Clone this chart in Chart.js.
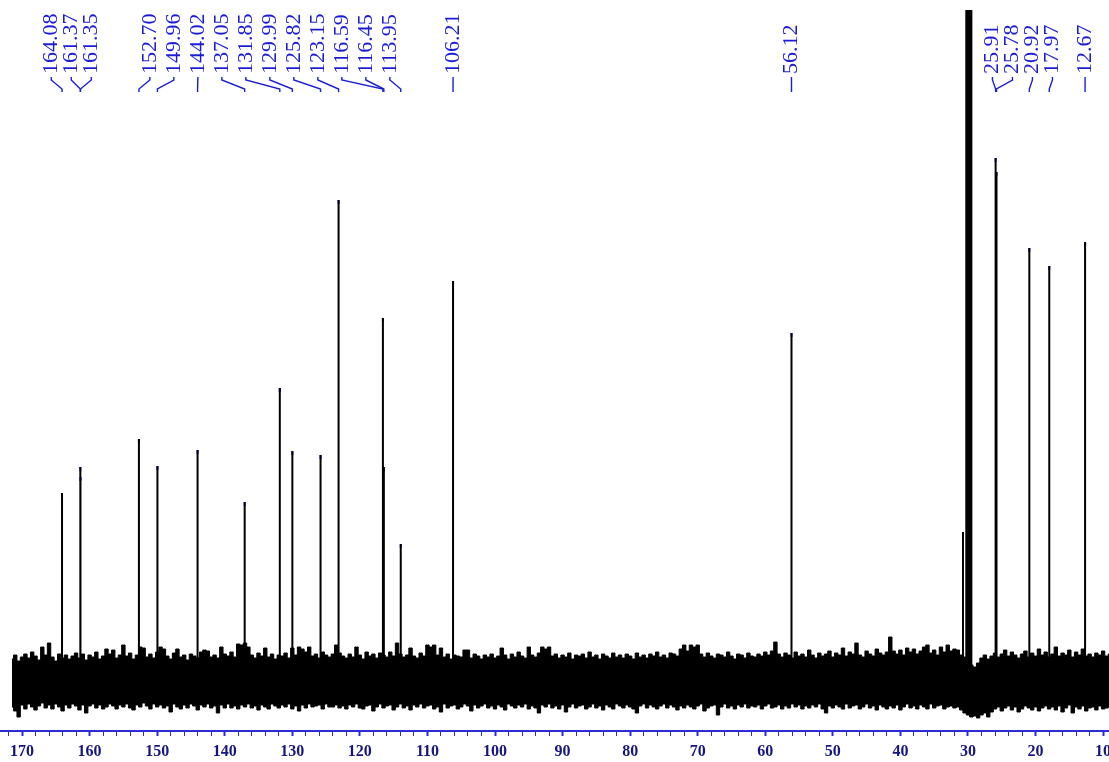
<!DOCTYPE html>
<html>
<head>
<meta charset="utf-8">
<script src="https://cdn.jsdelivr.net/npm/chart.js@4"></script>
<style>
  html, body { margin: 0; padding: 0; background: #fff; }
  canvas { display: block; }
</style>
</head>
<body>
<canvas id="nmrChart" width="1109" height="762"></canvas>
<script>
// 13C NMR peaks (ppm) and heights
const peakPpm = [164.08, 161.37, 161.35, 152.70, 149.96, 144.02, 137.05, 131.85, 129.99, 125.82,
                 123.15, 116.59, 116.45, 113.95, 106.21, 56.12, 25.91, 25.78, 20.92, 17.97, 12.67];
const peakHeight = [192, 218, 208, 246, 219, 235, 183, 297, 234, 230,
                    485, 367, 218, 141, 404, 352, 527, 513, 437, 419, 443];

// solvent multiplet (goes off the top)
const solventPpm = [30.74, 30.25, 30.10, 29.95, 29.80, 29.65, 29.50];
const solventHeight = [153, 2000, 2000, 2000, 2000, 2000, 2000];

// baseline noise: upper / lower edge of the noise band every 0.5 ppm from noiseStart
const noiseStart = 171.5;
const noiseStep = 0.5;
const noiseHi = [
  26, 30, 24, 28, 31, 27, 33, 29, 25, 38, 30, 42, 28, 24, 31, 27, 30, 26, 29, 32,
  27, 31, 25, 30, 28, 33, 26, 29, 36, 31, 35, 27, 30, 40, 29, 32, 26, 30, 38, 37,
  28, 31, 27, 33, 38, 36, 29, 26, 32, 36, 28, 30, 25, 31, 29, 27, 33, 35, 34, 28,
  30, 27, 38, 31, 29, 33, 28, 41, 40, 42, 38, 30, 27, 32, 29, 37, 28, 31, 26, 30,
  29, 32, 27, 37, 30, 38, 36, 33, 38, 29, 31, 27, 33, 30, 28, 31, 40, 32, 29, 27,
  31, 28, 38, 30, 26, 33, 29, 31, 27, 32, 30, 28, 33, 29, 42, 31, 28, 30, 37, 29,
  27, 32, 29, 40, 38, 40, 30, 37, 28, 31, 26, 30, 29, 28, 35, 35, 27, 31, 29, 26,
  30, 28, 31, 27, 29, 37, 30, 26, 31, 28, 33, 29, 27, 38, 30, 28, 32, 38, 36, 38,
  29, 31, 27, 30, 28, 32, 26, 30, 29, 31, 27, 33, 28, 30, 26, 31, 29, 27, 32, 28,
  30, 27, 31, 29, 26, 32, 28, 30, 27, 31, 29, 33, 28, 30, 27, 32, 31, 29, 36, 40,
  34, 40, 38, 40, 31, 28, 32, 29, 27, 31, 30, 28, 33, 29, 26, 31, 30, 27, 32, 29,
  28, 31, 29, 33, 30, 34, 43, 31, 28, 32, 30, 27, 33, 29, 31, 28, 35, 30, 27, 32,
  29, 31, 34, 28, 32, 30, 37, 29, 33, 31, 42, 30, 28, 34, 31, 29, 36, 32, 30, 33,
  48, 34, 31, 35, 30, 37, 33, 36, 31, 34, 38, 40, 32, 35, 30, 38, 33, 40, 34, 36,
  35, 30, 28, 24, 20, 18, 22, 27, 30, 26, 29, 32, 28, 31, 35, 29, 33, 30, 27, 31,
  34, 28, 32, 29, 36, 30, 33, 28, 31, 38, 29, 32, 30, 35, 28, 33, 30, 36, 29, 31,
  28, 32, 30, 34, 29, 31
];
const noiseLo = [
  -22, -26, -32, -20, -24, -19, -22, -25, -21, -18, -23, -20, -24, -19, -22, -26, -20, -23, -19, -21,
  -25, -20, -28, -21, -19, -23, -20, -24, -22, -19, -21, -24, -20, -22, -19, -23, -25, -20, -22, -18,
  -21, -24, -19, -22, -20, -23, -21, -27, -19, -22, -24, -20, -23, -19, -21, -25, -20, -22, -19, -23,
  -21, -28, -20, -23, -19, -23, -21, -24, -20, -22, -19, -23, -21, -25, -20, -22, -24, -19, -21, -23,
  -20, -22, -19, -24, -21, -26, -20, -23, -19, -22, -21, -20, -24, -19, -22, -22, -20, -23, -21, -24,
  -20, -22, -19, -23, -24, -21, -20, -26, -22, -19, -23, -21, -20, -25, -22, -19, -23, -21, -25, -20,
  -22, -19, -23, -21, -20, -24, -22, -27, -19, -23, -21, -20, -24, -22, -19, -21, -26, -20, -23, -21,
  -19, -23, -21, -24, -20, -22, -25, -19, -21, -23, -20, -22, -19, -24, -21, -23, -28, -20, -22, -19,
  -23, -21, -24, -20, -27, -22, -19, -23, -21, -20, -24, -22, -19, -23, -21, -25, -20, -22, -24, -19,
  -21, -23, -20, -22, -24, -28, -21, -19, -23, -20, -22, -24, -21, -19, -23, -20, -22, -25, -21, -23,
  -20, -22, -24, -21, -19, -26, -23, -21, -20, -30, -22, -19, -23, -21, -24, -20, -22, -19, -23, -21,
  -22, -20, -24, -21, -19, -23, -22, -20, -24, -21, -23, -19, -22, -20, -24, -21, -23, -20, -22, -19,
  -24, -28, -21, -23, -20, -22, -24, -19, -23, -21, -20, -24, -22, -19, -23, -21, -25, -20, -22, -24,
  -21, -23, -20, -25, -22, -19, -23, -21, -24, -20, -22, -24, -19, -23, -21, -20, -24, -22, -21, -23,
  -22, -25, -28, -30, -32, -31, -33, -30, -28, -32, -27, -24, -22, -26, -23, -21, -25, -22, -27, -24,
  -21, -23, -25, -22, -26, -23, -21, -24, -22, -25, -21, -27, -23, -20, -28, -22, -24, -21, -26, -23,
  -22, -25, -21, -24, -23, -22
];

// shift labels: how many sit side by side in each block, and their spacing (px)
const labelGroups = [3, 11, 1, 1, 4, 1];
const labelGaps = [20, 24, 0, 0, 20, 0];

const xMin = 9.13, xMax = 173.26;

// build the plotted points
const noisePpm = noiseHi.map((_, i) => noiseStart - i * noiseStep);
const noiseTop = noiseHi.map((v, i) => ({ x: noisePpm[i], y: v }));
const noiseBottom = noiseLo.map((v, i) => ({ x: noisePpm[i], y: v }));

function sticks(ppm, hgt) {
  const pts = [];
  ppm.forEach((p, i) => {
    pts.push({ x: p, y: 0 }, { x: p, y: hgt[i] }, { x: p, y: 0 }, { x: p, y: null });
  });
  return pts;
}

const labelPlugin = {
  id: 'shiftLabels',
  afterDatasetsDraw(chart) {
    const ctx = chart.ctx;
    const xs = chart.scales.x;
    const px = peakPpm.map(p => xs.getPixelForValue(p));
    let k = 0;
    ctx.save();
    ctx.font = '22px "Liberation Serif", "Times New Roman", serif';
    ctx.fillStyle = '#1c1cd4';
    ctx.strokeStyle = '#1c1cd4';
    ctx.lineWidth = 1.4;
    labelGroups.forEach((n, g) => {
      const grp = px.slice(k, k + n);
      const mid = (Math.min(...grp) + Math.max(...grp)) / 2;
      grp.forEach((x, j) => {
        const lx = mid + (j - (n - 1) / 2) * labelGaps[g];
        ctx.beginPath();
        ctx.moveTo(lx, 77);
        ctx.lineTo(lx, 80);
        ctx.lineTo(x, 89);
        ctx.lineTo(x, 92);
        ctx.stroke();
        ctx.save();
        ctx.translate(lx, 74);
        ctx.rotate(-Math.PI / 2);
        ctx.textAlign = 'left';
        ctx.textBaseline = 'middle';
        ctx.fillText(peakPpm[k + j].toFixed(2), 0, 0);
        ctx.restore();
      });
      k += n;
    });
    ctx.restore();
  }
};

const ctx = document.getElementById('nmrChart').getContext('2d');
new Chart(ctx, {
  type: 'line',
  data: {
    datasets: [
      {
        label: 'peaks',
        data: sticks(peakPpm, peakHeight),
        borderColor: '#000',
        borderWidth: 2,
        pointRadius: 0,
        spanGaps: false
      },
      {
        label: 'tops',
        data: peakPpm.map((p, i) => ({ x: p, y: peakHeight[i] - 2 })),
        showLine: false,
        pointStyle: 'line',
        rotation: 90,
        pointRadius: 2,
        pointBorderWidth: 2,
        pointBorderColor: '#2020e0'
      },
      {
        label: 'solvent',
        data: sticks(solventPpm, solventHeight),
        borderColor: '#000',
        borderWidth: 2,
        pointRadius: 0,
        spanGaps: false
      },
      {
        label: 'noise top',
        data: noiseTop,
        stepped: 'middle',
        borderColor: '#000',
        borderWidth: 1,
        pointRadius: 0,
        fill: false
      },
      {
        label: 'noise bottom',
        data: noiseBottom,
        stepped: 'middle',
        borderColor: '#000',
        borderWidth: 1,
        pointRadius: 0,
        backgroundColor: '#000',
        fill: '-1'
      }
    ]
  },
  plugins: [labelPlugin],
  options: {
    responsive: false,
    animation: false,
    layout: { autoPadding: false, padding: { top: 10, left: 0, right: 0, bottom: 0 } },
    elements: { line: { tension: 0 } },
    plugins: {
      legend: { display: false },
      tooltip: { enabled: false }
    },
    scales: {
      x: {
        type: 'linear',
        reverse: true,
        min: xMin,
        max: xMax,
        afterFit(scale) {
          scale.height = 31;
          scale.paddingLeft = 0;
          scale.paddingRight = 0;
        },
        border: { display: true, color: '#2b2bd8', width: 2 },
        grid: {
          drawOnChartArea: false,
          drawTicks: true,
          tickLength: 5,
          color: '#2b2bd8',
          tickWidth: c => (c.tick && c.tick.value % 10 === 0 ? 2 : 1)
        },
        ticks: {
          stepSize: 2,
          includeBounds: false,
          autoSkip: false,
          maxRotation: 0,
          padding: 6,
          color: '#16167e',
          font: { family: '"Liberation Serif", "Times New Roman", serif', size: 16, weight: 'bold' },
          callback: v => (v % 10 === 0 ? String(v) : '')
        }
      },
      y: {
        display: false,
        min: -46,
        max: 675
      }
    }
  }
});
</script>
</body>
</html>
